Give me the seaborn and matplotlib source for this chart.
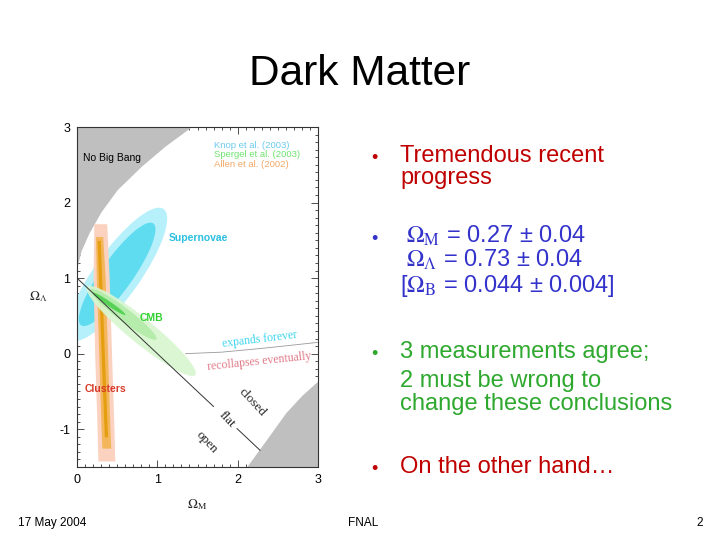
import matplotlib
matplotlib.use("Agg")
import matplotlib.pyplot as plt
from matplotlib.patches import Ellipse
from matplotlib.ticker import MultipleLocator
import seaborn as sns

# --- chart data ---
# "No Big Bang" boundary (top-left grey region)
nbb_x = [0.0, 0.05, 0.15, 0.30, 0.50, 0.80, 1.10, 1.42]
nbb_y = [1.14, 1.36, 1.60, 1.88, 2.17, 2.48, 2.75, 3.00]
# bottom-right grey region
br_x = [2.11, 2.35, 2.60, 2.80, 3.00]
br_y = [-1.50, -1.15, -0.78, -0.55, -0.36]
# flat universe line (Omega_M + Omega_L = 1), broken around the "flat" label
flat1_x = [0.0, 1.70]
flat1_y = [1.0, -0.70]
flat2_x = [1.99, 2.28]
flat2_y = [-0.99, -1.28]
# expands forever / recollapses eventually boundary
loit_x = [1.35, 1.80, 2.30, 2.70, 3.00]
loit_y = [0.00, 0.02, 0.07, 0.115, 0.15]

# supernovae confidence ellipses: (center, major, minor, angle)
sn_center = (0.50, 1.05)
sn_major = [2.08, 1.62]
sn_minor = [0.58, 0.40]
sn_angle = 56.5
sn_colors = ["#b6f0fb", "#5fdcef"]

# CMB contours
cmb_centers = [(0.80, 0.30), (0.58, 0.52), (0.40, 0.66)]
cmb_major = [1.78, 1.05, 0.50]
cmb_minor = [0.32, 0.17, 0.06]
cmb_angles = [-41, -39, -36]
cmb_colors = ["#d8f6d0", "#b2eca8", "#4fcf4f"]

# clusters band (y along band, x edges)
cl_y = [-1.42, -1.0, 0.0, 1.0, 1.72]
cl_outer_l = [0.26, 0.25, 0.22, 0.20, 0.21]
cl_outer_r = [0.47, 0.46, 0.43, 0.40, 0.37]
cl_mid_y = [-1.25, -1.0, 0.0, 1.0, 1.55]
cl_mid_l = [0.31, 0.30, 0.27, 0.24, 0.23]
cl_mid_r = [0.42, 0.41, 0.38, 0.35, 0.32]
cl_core_y = [-1.10, 0.0, 1.50]
cl_core_l = [0.34, 0.30, 0.25]
cl_core_r = [0.38, 0.34, 0.29]

legend_labels = ["Knop et al. (2003)", "Spergel et al. (2003)", "Allen et al. (2002)"]
legend_colors = ["#6ccbed", "#6fe36f", "#f2a868"]

xticks = [0, 1, 2, 3]
yticks = [-1, 0, 1, 2, 3]

W, H = 720, 540


def fx(px):
    return px / W


def fy(py):
    return 1 - py / H


sns.set_theme(style="ticks")
plt.rcParams["font.family"] = ["Liberation Sans", "DejaVu Sans"]
plt.rcParams["mathtext.fontset"] = "stix"
plt.rcParams["axes.unicode_minus"] = False

fig = plt.figure(figsize=(7.2, 5.4), dpi=100)
fig.patch.set_facecolor("white")

# ---------- slide text ----------
fig.text(fx(360), fy(85), "Dark Matter", ha="center", va="baseline", fontsize=30.5, color="black")

red, blue, green = "#c00000", "#3333cc", "#2ea82e"
bullets = [
    (162, red), (243, blue), (358, green), (473, red)
]
for by, col in bullets:
    fig.text(fx(371), fy(by + 1), "•", ha="left", va="baseline", fontsize=13, color=col)

fig.text(fx(400), fy(162), "Tremendous recent", va="baseline", fontsize=17, color=red)
fig.text(fx(400), fy(184), "progress", va="baseline", fontsize=17, color=red)
fig.text(fx(406), fy(243), r"$\Omega_{\mathrm{M}}$ = 0.27 ± 0.04", va="baseline", fontsize=17, color=blue)
fig.text(fx(406), fy(267), r"$\Omega_{\Lambda}$ = 0.73 ± 0.04", va="baseline", fontsize=17, color=blue)
fig.text(fx(400), fy(292), r"[$\Omega_{\mathrm{B}}$ = 0.044 ± 0.004]", va="baseline", fontsize=17, color=blue)
fig.text(fx(400), fy(358), "3 measurements agree;", va="baseline", fontsize=17, color=green)
fig.text(fx(400), fy(387), "2 must be wrong to", va="baseline", fontsize=17, color=green)
fig.text(fx(400), fy(410), "change these conclusions", va="baseline", fontsize=17, color=green)
fig.text(fx(400), fy(473), "On the other hand…", va="baseline", fontsize=17, color=red)

fig.text(fx(18), fy(523), "17 May 2004", va="center", fontsize=8.5, color="black")
fig.text(fx(363), fy(523), "FNAL", ha="center", va="center", fontsize=8.5, color="black")
fig.text(fx(703), fy(523), "2", ha="right", va="center", fontsize=8.5, color="black")

# ---------- embedded plot ----------
ax = fig.add_axes([fx(77), fy(467), (318 - 77) / W, (467 - 127) / H])
ax.set_xlim(0, 3)
ax.set_ylim(-1.5, 3)

ax.fill_between(nbb_x, nbb_y, 3, color="#bfbfbf", lw=0, zorder=1)
ax.fill_between(br_x, br_y, -1.5, color="#bfbfbf", lw=0, zorder=1)

for maj, mn, col in zip(sn_major, sn_minor, sn_colors):
    ax.add_patch(Ellipse(sn_center, maj, mn, angle=sn_angle, color=col, lw=0, zorder=2))

ax.fill_betweenx(cl_y, cl_outer_l, cl_outer_r, color="#fad2bf", lw=0, zorder=3)
ax.fill_betweenx(cl_mid_y, cl_mid_l, cl_mid_r, color="#f4b65a", lw=0, zorder=3)
ax.fill_betweenx(cl_core_y, cl_core_l, cl_core_r, color="#e49e10", lw=0, zorder=3)

for c, maj, mn, ang, col in zip(cmb_centers, cmb_major, cmb_minor, cmb_angles, cmb_colors):
    ax.add_patch(Ellipse(c, maj, mn, angle=ang, color=col, lw=0, zorder=4, alpha=0.92))

sns.lineplot(x=flat1_x, y=flat1_y, ax=ax, color="#333333", lw=0.7, sort=False, zorder=5)
sns.lineplot(x=flat2_x, y=flat2_y, ax=ax, color="#333333", lw=0.7, sort=False, zorder=5)
sns.lineplot(x=loit_x, y=loit_y, ax=ax, color="#999999", lw=0.6, sort=False, zorder=5)

serif = ["Liberation Serif", "DejaVu Serif"]
ax.text(2.27, 0.19, "expands forever", color="#3fd6ee", fontsize=8.5, family=serif,
        rotation=7, ha="center", va="center", zorder=6)
ax.text(2.27, -0.10, "recollapses eventually", color="#e07a88", fontsize=8.5, family=serif,
        rotation=6, ha="center", va="center", zorder=6)
ax.text(2.18, -0.65, "closed", fontsize=9.5, family=serif, rotation=-47, ha="center", va="center", zorder=6)
ax.text(1.86, -0.87, "flat", fontsize=9.5, family=serif, rotation=-47, ha="center", va="center", zorder=6)
ax.text(1.62, -1.17, "open", fontsize=9.5, family=serif, rotation=-47, ha="center", va="center", zorder=6)

ax.text(0.075, 2.59, "No Big Bang", fontsize=7.5, color="black", va="center", zorder=6)
ax.text(1.14, 1.53, "Supernovae", fontsize=7.5, color="#2bbfe0", weight="bold", va="center", zorder=6)
ax.text(0.78, 0.47, "CMB", fontsize=7.5, color="#2fd12f", weight="bold", va="center", zorder=6)
ax.text(0.10, -0.47, "Clusters", fontsize=7.5, color="#d83a2a", weight="bold", va="center", zorder=6)
for i, (lab, col) in enumerate(zip(legend_labels, legend_colors)):
    ax.text(1.70, 2.76 - 0.125 * i, lab, fontsize=6.8, color=col, va="center", zorder=6)

ax.set_xticks(xticks)
ax.set_yticks(yticks)
ax.xaxis.set_minor_locator(MultipleLocator(0.1))
ax.yaxis.set_minor_locator(MultipleLocator(0.1))
ax.tick_params(which="both", direction="in", top=True, right=True, colors="#333333",
               labelcolor="black", labelsize=9, width=0.6)
ax.tick_params(which="major", length=5, pad=5)
ax.tick_params(which="minor", length=2.5)
for s in ax.spines.values():
    s.set_linewidth(0.8)
    s.set_color("#333333")

ax.set_xlabel(r"$\Omega_{\mathrm{M}}$", fontsize=9.5)
ax.set_ylabel(r"$\Omega_{\Lambda}$", fontsize=9.5, rotation=0)
ax.xaxis.set_label_coords(0.5, -(505 - 467) / 340)
ax.yaxis.set_label_coords((38 - 77) / 241, (467 - 297) / 340)
ax.xaxis.label.set_va("center")
ax.yaxis.label.set_va("center")

fig.savefig("out.png", dpi=100)
